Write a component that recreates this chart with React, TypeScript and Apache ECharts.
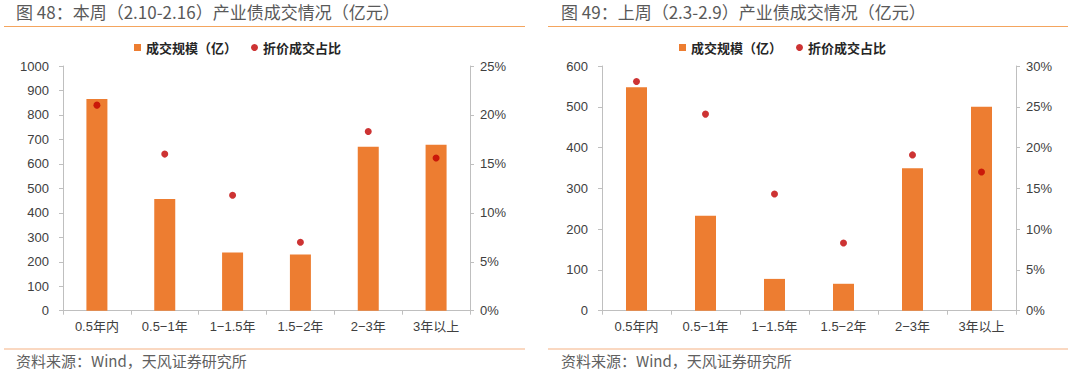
import React, { useEffect, useRef } from "react";
import * as echarts from "echarts";

const categories = ["0.5年内", "0.5-1年", "1-1.5年", "1.5-2年", "2-3年", "3年以上"];
const categoryLabels = ["0.5年内", "0.5−1年", "1−1.5年", "1.5−2年", "2−3年", "3年以上"];

const volumeThisWeek = [865, 456, 238, 230, 670, 678];
const discountThisWeek = [21.0, 16.0, 11.8, 7.0, 18.3, 15.6];

const volumeLastWeek = [548, 233, 78, 66, 349, 500];
const discountLastWeek = [28.1, 24.1, 14.3, 8.3, 19.1, 17.0];

const titleLeft = "图 48：本周（2.10-2.16）产业债成交情况（亿元）";
const titleRight = "图 49：上周（2.3-2.9）产业债成交情况（亿元）";
const sourceText = "资料来源：Wind，天风证券研究所";
const barName = "成交规模（亿）";
const dotName = "折价成交占比";

const BAR = "#ED7D31";
const DOT = "#C00000";
const AXIS = "#BFBFBF";
const LABEL = "#404040";
const FONT = "Liberation Sans, Noto Sans CJK SC, sans-serif";
const CJK = "Noto Sans CJK SC, sans-serif";

export default function App() {
  const ref = useRef<HTMLDivElement>(null);
  useEffect(() => {
    if (!ref.current) return;
    const chart = echarts.init(ref.current, undefined, { renderer: "svg" });

    const xAxisBase = (gridIndex: number) => ({
      type: "category" as const,
      gridIndex,
      data: categoryLabels,
      boundaryGap: true,
      axisLine: { lineStyle: { color: AXIS, width: 1 } },
      axisTick: { show: true, length: 4, alignWithLabel: false, lineStyle: { color: AXIS } },
      axisLabel: { color: LABEL, fontSize: 13, fontFamily: FONT, margin: 9, interval: 0 },
      splitLine: { show: false },
    });

    const yLeft = (gridIndex: number, max: number) => ({
      type: "value" as const,
      gridIndex,
      position: "left" as const,
      min: 0,
      max,
      interval: 100,
      axisLine: { show: true, lineStyle: { color: AXIS } },
      axisTick: { show: true, length: 4, lineStyle: { color: AXIS } },
      axisLabel: {
        color: LABEL,
        fontSize: 13,
        fontFamily: FONT,
        margin: 14,
        formatter: (v: number) => String(v),
      },
      splitLine: { show: false },
    });

    const yRight = (gridIndex: number, max: number) => ({
      type: "value" as const,
      gridIndex,
      position: "right" as const,
      min: 0,
      max,
      interval: 5,
      axisLine: { show: true, lineStyle: { color: AXIS } },
      axisTick: { show: true, length: 4, lineStyle: { color: AXIS } },
      axisLabel: { color: LABEL, fontSize: 13, fontFamily: FONT, margin: 10, formatter: "{value}%" },
      splitLine: { show: false },
    });

    const legendBase = (left: number) => ({
      left,
      top: 36,
      itemWidth: 7,
      itemHeight: 7,
      itemGap: 14,
      textStyle: { color: "#262626", fontSize: 13, fontWeight: "bold" as const, fontFamily: CJK },
      data: [
        { name: barName, icon: "rect" },
        { name: dotName, icon: "circle" },
      ],
      selectedMode: false,
    });

    const option = {
      animation: false,
      backgroundColor: "#ffffff",
      grid: [
        { left: 63, top: 66, width: 407, height: 244.7, containLabel: false },
        { left: 602, top: 66, width: 414, height: 244.7, containLabel: false },
      ],
      legend: [legendBase(129), legendBase(674)],
      xAxis: [xAxisBase(0), xAxisBase(1)],
      yAxis: [yLeft(0, 1000), yRight(0, 25), yLeft(1, 600), yRight(1, 30)],
      series: [
        {
          name: barName,
          type: "bar",
          xAxisIndex: 0,
          yAxisIndex: 0,
          data: volumeThisWeek,
          barWidth: 21,
          itemStyle: { color: BAR },
        },
        {
          name: dotName,
          type: "scatter",
          xAxisIndex: 0,
          yAxisIndex: 1,
          data: discountThisWeek,
          symbol: "circle",
          symbolSize: 7,
          itemStyle: { color: DOT },
        },
        {
          name: barName,
          type: "bar",
          xAxisIndex: 1,
          yAxisIndex: 2,
          data: volumeLastWeek,
          barWidth: 21,
          itemStyle: { color: BAR },
        },
        {
          name: dotName,
          type: "scatter",
          xAxisIndex: 1,
          yAxisIndex: 3,
          data: discountLastWeek,
          symbol: "circle",
          symbolSize: 7,
          itemStyle: { color: DOT },
        },
      ],
      graphic: [
        {
          type: "text",
          left: 16,
          top: 3,
          style: { text: titleLeft, fontSize: 17, fill: "#595959", fontFamily: CJK },
        },
        {
          type: "text",
          left: 561,
          top: 3,
          style: { text: titleRight, fontSize: 17, fill: "#595959", fontFamily: CJK },
        },
        {
          type: "line",
          shape: { x1: 4, y1: 26.5, x2: 525, y2: 26.5 },
          style: { stroke: "#F4A55E", lineWidth: 1.2 },
        },
        {
          type: "line",
          shape: { x1: 548, y1: 26.5, x2: 1068, y2: 26.5 },
          style: { stroke: "#F4A55E", lineWidth: 1.2 },
        },
        {
          type: "line",
          shape: { x1: 4, y1: 349, x2: 525, y2: 349 },
          style: { stroke: "#F8CBAD", lineWidth: 1.5 },
        },
        {
          type: "line",
          shape: { x1: 548, y1: 349, x2: 1068, y2: 349 },
          style: { stroke: "#F8CBAD", lineWidth: 1.5 },
        },
        {
          type: "text",
          left: 16,
          top: 353,
          style: { text: sourceText, fontSize: 15, fill: "#606060", fontFamily: CJK },
        },
        {
          type: "text",
          left: 561,
          top: 353,
          style: { text: sourceText, fontSize: 15, fill: "#606060", fontFamily: CJK },
        },
      ],
    };

    chart.setOption(option as any);
    return () => chart.dispose();
  }, []);

  return (
    <div
      ref={ref}
      data-categories={categories.join(",")}
      style={{ position: "fixed", left: 0, top: 0, width: 1080, height: 384, background: "#fff" }}
    />
  );
}
